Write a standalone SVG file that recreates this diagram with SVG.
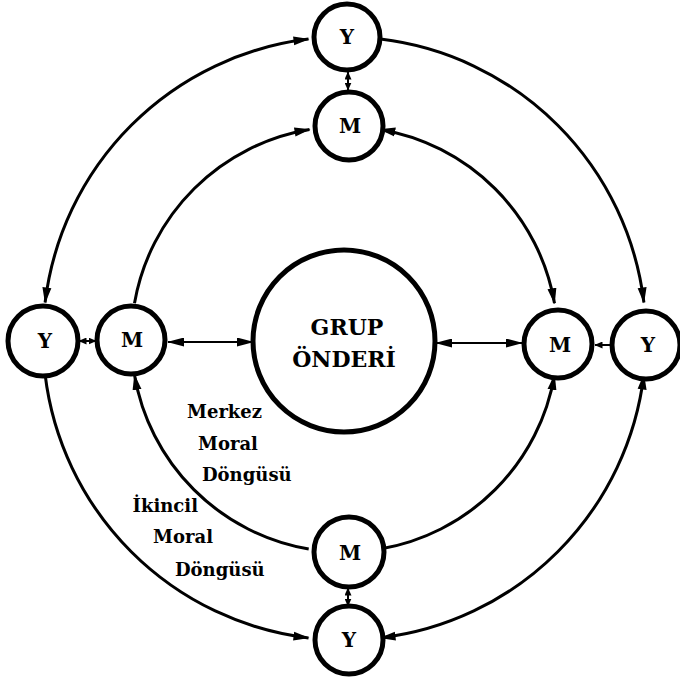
<svg xmlns="http://www.w3.org/2000/svg" width="680" height="678" viewBox="0 0 680 678">
<style>
.bg{fill:#fff}
.node circle{fill:#fff;stroke:#000;stroke-width:5}
.hub circle{fill:#fff;stroke:#000;stroke-width:5}
.node text,.hub text,.lbl{font-family:"DejaVu Serif","Liberation Serif",serif;font-weight:bold;fill:#000}
.node text{font-size:20px;text-anchor:middle}
.hub text{font-size:22px;text-anchor:middle}
.lbl{font-size:18px}
.arc{fill:none;stroke:#000;stroke-width:3}
.link{fill:none;stroke:#000;stroke-width:2}
</style>
<defs>
<marker id="ah" viewBox="0 0 16 10" refX="15" refY="5" markerWidth="16" markerHeight="10" markerUnits="userSpaceOnUse" orient="auto-start-reverse"><path d="M0,0.5 L16,5 L0,9.5 Z"/></marker>
<marker id="am" viewBox="0 0 17 9" refX="16" refY="4.5" markerWidth="17" markerHeight="9" markerUnits="userSpaceOnUse" orient="auto-start-reverse"><path d="M0,0 L17,4.5 L0,9 Z"/></marker>
<marker id="as" viewBox="0 0 8 7" refX="7.5" refY="3.5" markerWidth="8" markerHeight="7" markerUnits="userSpaceOnUse" orient="auto-start-reverse"><path d="M0,0 L8,3.5 L0,7 Z"/></marker>
</defs>
<rect class="bg" x="0" y="0" width="680" height="678"/>
<g id="connectors">
<!-- outer ring (Y to Y) -->
<path class="arc" d="M308.5,39.1 A301.5,301.5 0 0 0 45.1,302.5" marker-start="url(#ah)" marker-end="url(#ah)"/>
<path class="arc" d="M380.5,39.1 A301.5,301.5 0 0 1 643.9,302.5" marker-end="url(#ah)"/>
<path class="arc" d="M643.9,374.5 A301.5,301.5 0 0 1 380.5,637.9" marker-start="url(#ah)" marker-end="url(#ah)"/>
<path class="arc" d="M45.1,374.5 A301.5,301.5 0 0 0 308.5,637.9" marker-end="url(#ah)"/>
<!-- inner ring (M to M) -->
<path class="arc" d="M309.5,129.5 A213,213 0 0 0 134.5,303.2" marker-start="url(#ah)"/>
<path class="arc" d="M380.3,129.5 A213,213 0 0 1 554.5,303.2" marker-start="url(#ah)" marker-end="url(#ah)"/>
<path class="arc" d="M554.5,374.9 A213,213 0 0 1 380.3,549" marker-start="url(#ah)"/>
<path class="arc" d="M134.5,374.9 A213,213 0 0 0 308.7,549" marker-start="url(#ah)"/>
<!-- short links -->
<line class="link" x1="348" y1="72" x2="348" y2="90" marker-start="url(#as)" marker-end="url(#as)"/>
<line class="link" x1="79" y1="341" x2="96" y2="341" marker-start="url(#as)" marker-end="url(#as)"/>
<line class="link" x1="168" y1="342" x2="253" y2="342" marker-start="url(#am)" marker-end="url(#am)"/>
<line class="link" x1="436" y1="343" x2="522" y2="343" marker-start="url(#am)" marker-end="url(#am)"/>
<line class="link" x1="595" y1="345" x2="612" y2="345" marker-start="url(#as)"/>
<line class="link" x1="348" y1="588" x2="348" y2="606" marker-start="url(#as)" marker-end="url(#as)"/>
</g>
<g id="grup-onderi" class="hub"><circle cx="344" cy="341" r="91"/><text x="347" y="335">GRUP</text><text x="344" y="367">ÖNDERİ</text></g>
<g id="y-top" class="node"><circle cx="347" cy="37" r="33"/><text x="347" y="44">Y</text></g>
<g id="m-top" class="node"><circle cx="349" cy="126" r="34"/><text x="350" y="133">M</text></g>
<g id="y-left" class="node"><circle cx="43" cy="341" r="35"/><text x="45" y="348">Y</text></g>
<g id="m-left" class="node"><circle cx="131" cy="340" r="34"/><text x="132" y="347">M</text></g>
<g id="m-right" class="node"><circle cx="558" cy="344" r="34"/><text x="560" y="352">M</text></g>
<g id="y-right" class="node"><circle cx="646" cy="345" r="34"/><text x="648" y="352">Y</text></g>
<g id="m-bottom" class="node"><circle cx="349" cy="552" r="35"/><text x="350" y="560">M</text></g>
<g id="y-bottom" class="node"><circle cx="349" cy="640" r="34"/><text x="349" y="647">Y</text></g>
<g id="labels">
<text class="lbl" x="187" y="418">Merkez</text>
<text class="lbl" x="198" y="450">Moral</text>
<text class="lbl" x="202" y="481">Döngüsü</text>
<text class="lbl" x="198" y="512" text-anchor="end">İkincil</text>
<text class="lbl" x="213" y="543" text-anchor="end">Moral</text>
<text class="lbl" x="175" y="576">Döngüsü</text>
</g>
</svg>
